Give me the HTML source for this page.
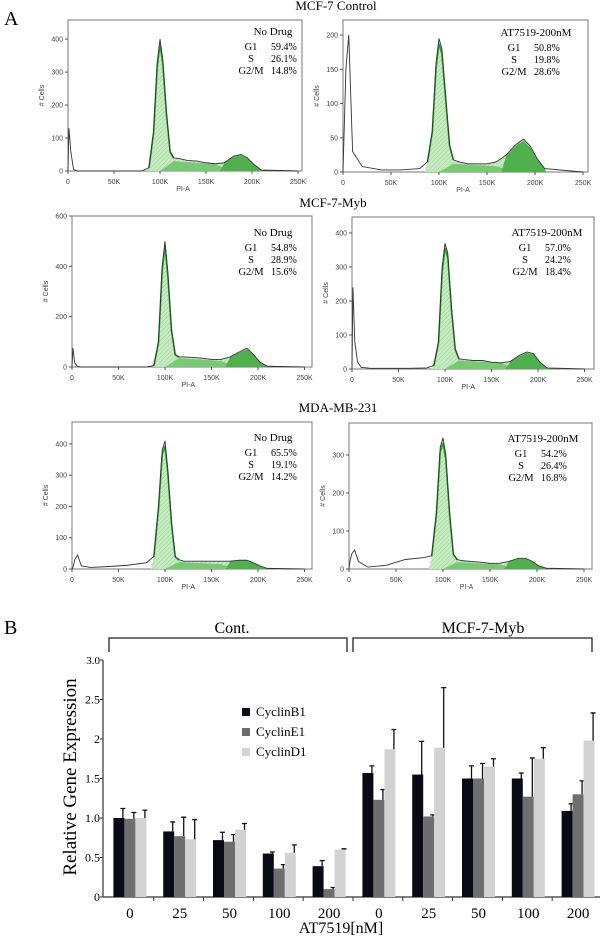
<!DOCTYPE html>
<html><head><meta charset="utf-8"><style>
body{margin:0;background:#fff;width:600px;height:937px;overflow:hidden}
svg{display:block;font-family:"Liberation Serif",serif}
</style></head><body>
<svg id="fig" width="600" height="937">
<defs><pattern id="hatch" width="3" height="3" patternUnits="userSpaceOnUse" patternTransform="rotate(45)"><rect width="3" height="3" fill="#c9ebc3"/><line x1="0" y1="0" x2="0" y2="3" stroke="#8fd48a" stroke-width="1"/></pattern></defs>
<text x="4" y="25" font-size="20">A</text>
<text x="4" y="634" font-size="20">B</text>
<text x="336" y="10" font-size="13" text-anchor="middle">MCF-7 Control</text>
<text x="333" y="207" font-size="13" text-anchor="middle">MCF-7-Myb</text>
<text x="338" y="412" font-size="13" text-anchor="middle">MDA-MB-231</text>
<g id="hists"></g>
<g id="bars"></g>
</svg>
<script>
// histogram data: x grid in K, counts per panel
const histX=[0,1,3,6,10,20,40,60,80,88,93,97,100,103,107,111,115,120,130,140,150,160,170,180,188,195,202,210,250];
const countsP1=[0,130,60,5,0,0,0,0,0,10,120,330,400,340,180,60,40,38,32,30,25,22,25,45,50,40,20,3,0];
const countsP2=[0,50,150,200,30,8,3,3,5,15,60,160,195,180,110,40,18,15,12,12,12,15,25,40,48,38,20,5,0];
const countsP3=[0,75,15,2,0,0,0,0,0,5,100,400,500,380,150,50,40,40,38,35,30,30,40,60,75,50,20,3,0];
const countsP4=[0,240,80,20,5,2,2,2,3,10,80,300,370,340,180,60,30,28,25,25,20,18,22,40,50,45,20,3,0];
const countsP5=[0,5,30,45,10,5,8,12,20,40,200,380,410,320,150,40,30,25,25,25,25,25,25,28,28,20,10,2,0];
const countsP6=[0,20,40,50,20,5,10,25,30,35,150,320,345,300,150,40,25,22,20,18,15,15,20,28,28,20,8,2,0];
const sLevels=[30,12,35,25,22,18];
const yTicksP=[[0,100,200,300,400],[0,50,100,150,200],[0,200,400,600],[0,100,200,300,400],[0,100,200,300,400],[0,100,200,300]];
const xTickLabels=["0","50K","100K","150K","200K","250K"];
const annTitles=["No Drug","AT7519-200nM","No Drug","AT7519-200nM","No Drug","AT7519-200nM"];
const g1Vals=["59.4%","50.8%","54.8%","57.0%","65.5%","54.2%"];
const sVals=["26.1%","19.8%","28.9%","24.2%","19.1%","26.4%"];
const g2Vals=["14.8%","28.6%","15.6%","18.4%","14.2%","16.8%"];
const allCounts=[countsP1,countsP2,countsP3,countsP4,countsP5,countsP6];
// layout: left, top, base, right, yMax, pxPerK, annotation x, annotation y
const L=[[68,20,171,302,458,0.92,273,31],[343,20,172,588,222,0.96,536,32],[72,216,367,312,600,0.93,273,232],[352,217,369,594,447,0.93,547,232],[72,422,569,312,470,0.93,273,437],[349,423,569,592,384,0.94,543,438]];
const NS="http://www.w3.org/2000/svg";
function mk(tag,attrs,parent,txt){const e=document.createElementNS(NS,tag);for(const k in attrs)e.setAttribute(k,attrs[k]);if(txt!==undefined)e.textContent=txt;parent.appendChild(e);return e;}
const H=document.getElementById('hists');
allCounts.forEach((c,i)=>{
 const [l,t,b,r,ym,pk,ax,ay]=L[i];
 const g=mk('g',{},H);
 
 
 const X=v=>l+v*pk, Y=v=>b-(v/ym)*(b-t);
 const fr=mk('rect',{x:l,y:t,width:r-l,height:b-t,fill:'none',stroke:'#777','stroke-width':1},g);
 
 
 let pts=[];histX.forEach((x,j)=>{if(x>=85&&x<=212)pts.push(X(x)+','+Y(c[j]));});
 pts.unshift(X(85)+','+b);pts.push(X(212)+','+b);
 const gf=mk('polygon',{points:pts.join(' '),fill:'url(#hatch)'},g);
 
 
 const s=sLevels[i];
 const sp=mk('polygon',{points:`${X(100)},${b} ${X(115)},${Y(s)} ${X(160)},${Y(s*0.7)} ${X(178)},${b}`,fill:'#6cc36a','fill-opacity':0.85},g);
 
 
 let g2=[];histX.forEach((x,j)=>{if(x>=170&&x<=212)g2.push(X(x)+','+Y(c[j]*0.95));});
 g2.unshift(X(165)+','+b);g2.push(X(212)+','+b);
 const gp=mk('polygon',{points:g2.join(' '),fill:'#4fb04d'},g);
 
 
 let gl=[];histX.forEach((x,j)=>{if(x>=85&&x<=118)gl.push(X(x)+','+Y(c[j]*0.96));});
 const gline=mk('polyline',{points:gl.join(' '),fill:'none',stroke:'#22a22a','stroke-width':1.6},g);
 
 
 const ol=mk('polyline',{points:histX.map((x,j)=>X(x)+','+Y(c[j])).join(' '),fill:'none',stroke:'#333','stroke-width':0.9},g);
 
 
 yTicksP[i].forEach(v=>{
  mk('line',{x1:l-3,x2:l,y1:Y(v),y2:Y(v),stroke:'#555'},g);
  const tl=mk('text',{x:l-5,y:Y(v)+2.5,'font-size':7,'text-anchor':'end',fill:'#444','font-family':'Liberation Sans,sans-serif'},g,String(v));
  
  
 });
 xTickLabels.forEach((s2,k)=>{
  const xx=X(k*50);
  mk('line',{x1:xx,x2:xx,y1:b,y2:b+3,stroke:'#555'},g);
  const tl=mk('text',{x:xx,y:b+13,'font-size':7,'text-anchor':'middle',fill:'#444','font-family':'Liberation Sans,sans-serif'},g,s2);
  
  
 });
 const xt=mk('text',{x:X(125),y:b+20,'font-size':7,'text-anchor':'middle',fill:'#444','font-family':'Liberation Sans,sans-serif'},g,'PI-A');
 
 
 const yt=mk('text',{x:0,y:0,'font-size':7,'text-anchor':'middle',fill:'#444','font-family':'Liberation Sans,sans-serif',transform:`translate(${l-24},${(t+b)/2}) rotate(-90)`},g,'# Cells');
 
 
 const at=mk('text',{x:ax,y:ay+4,'font-size':11,'text-anchor':'middle'},g,annTitles[i]);
 
 
 const rows=[['G1',g1Vals[i]],['S',sVals[i]],['G2/M',g2Vals[i]]];
 rows.forEach((rw,k)=>{
  const yy=ay+19+k*12;
  const a=mk('text',{x:ax-22,y:yy,'font-size':10.5,'text-anchor':'middle'},g,rw[0]);
  
  
  const v=mk('text',{x:ax-2,y:yy,'font-size':10,'text-anchor':'start'},g,rw[1]);
  
  
 });
});

// bar chart data
const groups=["0","25","50","100","200","0","25","50","100","200"];
const cyclinB1=[1.0,0.83,0.72,0.55,0.39,1.57,1.55,1.50,1.50,1.09];
const cyclinE1=[0.99,0.77,0.70,0.36,0.10,1.23,1.02,1.50,1.27,1.30];
const cyclinD1=[1.0,0.73,0.85,0.56,0.60,1.87,1.89,1.65,1.75,1.98];
const errB1=[0.12,0.12,0.10,0.02,0.07,0.09,0.42,0.16,0.07,0.09];
const errE1=[0.08,0.24,0.09,0.05,0.02,0.13,0.02,0.19,0.49,0.17];
const errD1=[0.10,0.25,0.08,0.10,0.01,0.25,0.76,0.10,0.14,0.35];
const yTickVals=[0,0.5,1.0,1.5,2,2.5,3.0];
const yTickText=["0","0.5","1.0","1.5","2","2.5","3.0"];
const seriesNames=["CyclinB1","CyclinE1","CyclinD1"];
const seriesColors=["#0a0a14","#6e6e6e","#d2d2d2"];
const B=document.getElementById('bars');
const ax0=103,base=897,unit=79,gStart=104,gW=49.8;
const yS=v=>base-v*unit;
const xC=i=>gStart+gW*(i+0.5)+1;
const yAx=mk('line',{x1:ax0,x2:ax0,y1:yS(3.0),y2:base,stroke:'#333','stroke-width':1.2},B);


const xAx=mk('line',{x1:ax0,x2:600,y1:base,y2:base,stroke:'#333','stroke-width':1.2},B);


yTickVals.forEach((v,k)=>{
 mk('line',{x1:ax0-3,x2:ax0,y1:yS(v),y2:yS(v),stroke:'#333'},B);
 const tl=mk('text',{x:ax0-3,y:yS(v)+4,'font-size':k==6?11:12,'text-anchor':'end'},B,yTickText[k]);
 
 
});
const data=[cyclinB1,cyclinE1,cyclinD1],errs=[errB1,errE1,errD1];
groups.forEach((gname,i)=>{
 const cx=xC(i);
 if(i<groups.length-1) mk('line',{x1:gStart+gW*(i+1),x2:gStart+gW*(i+1),y1:base,y2:base+4,stroke:'#333'},B);
 data.forEach((arr,s)=>{
  const bx=cx-16.5+s*11,v=arr[i],top=yS(v+errs[s][i]);
  const r=mk('rect',{x:bx,y:yS(v),width:11,height:base-yS(v),fill:seriesColors[s]},B);
  
  
  const ex=bx+9.5;
  const e=mk('path',{d:`M${ex},${yS(v)}V${top}M${ex-2.5},${top}H${ex+2.5}`,stroke:'#111','stroke-width':1.3,fill:'none'},B);
  
  
 });
 const tl=mk('text',{x:cx,y:918,'font-size':15,'text-anchor':'middle'},B,gname);
 
 
});
const xt=mk('text',{x:341,y:933,'font-size':16,'text-anchor':'middle'},B,'AT7519[nM]');


const yt=mk('text',{x:0,y:0,'font-size':19,'text-anchor':'middle',transform:'translate(76,777) rotate(-90)'},B,'Relative Gene Expression');


seriesNames.forEach((n,s)=>{
 const yy=713+s*20;
 const sq=mk('rect',{x:242,y:yy-5,width:8,height:8,fill:seriesColors[s]},B);
 
 
 const lt=mk('text',{x:256,y:yy+3,'font-size':13},B,n);
 
 
});
[[109,347,'Cont.',232],[353,592,'MCF-7-Myb',483]].forEach(([a,b2,lab,cx])=>{
 const p=mk('path',{d:`M${a},652V638H${b2}V652`,stroke:'#222','stroke-width':1.3,fill:'none'},B);
 
 
 const t=mk('text',{x:cx,y:633,'font-size':16,'text-anchor':'middle'},B,lab);
 
 
});
</script>
</body></html>
